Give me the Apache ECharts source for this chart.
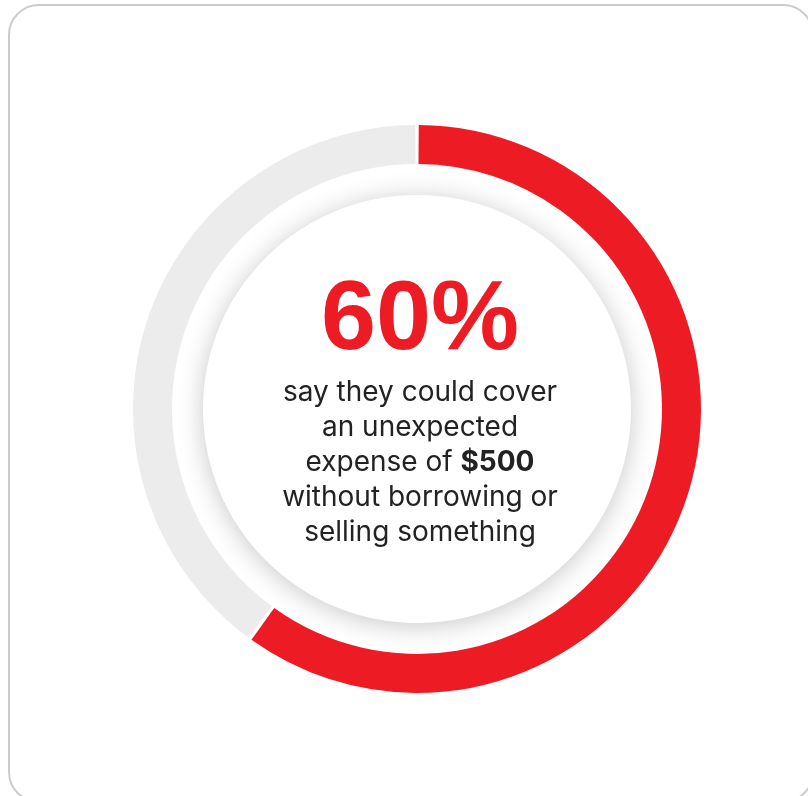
<!DOCTYPE html>
<html>
<head>
<meta charset="utf-8">
<script src="https://cdn.jsdelivr.net/npm/echarts@6/dist/echarts.min.js"></script>
<style>
  html, body { margin: 0; padding: 0; background: #ffffff; }
  #chart { width: 808px; height: 796px; }
</style>
</head>
<body>
<div id="chart"></div>
<script>
// Share of respondents able to cover a $500 emergency expense
const categories = ['Could cover', 'Could not cover'];
const values = [60, 40];
const colors = ['#ed1c24', '#ececec'];

const headline = values[0] + '%';
const bodyLines = [
  'say they could cover',
  'an unexpected',
  '{n|expense of }{b|$500}',
  'without borrowing or',
  'selling something'
];

const cx = 417, cy = 409;
const bodyFont = '"Inter", "Noto Sans", sans-serif';
const bodySize = 28;

const chart = echarts.init(document.getElementById('chart'), null, { renderer: 'canvas' });

chart.setOption({
  animation: false,
  backgroundColor: '#ffffff',
  graphic: [
    {
      type: 'rect',
      z: 0,
      shape: { x: 9, y: 5, width: 804, height: 797, r: 30 },
      style: { fill: '#ffffff', stroke: '#cccccc', lineWidth: 2 }
    },
    {
      type: 'circle',
      z: 1,
      shape: { cx: cx, cy: cy, r: 214 },
      style: {
        fill: '#ffffff',
        shadowBlur: 26,
        shadowColor: 'rgba(0,0,0,0.22)',
        shadowOffsetX: 0,
        shadowOffsetY: 3
      }
    },
    {
      type: 'text',
      z: 5,
      x: cx + 3,
      y: 322,
      style: {
        text: headline,
        fill: '#ed1c24',
        font: 'bold 99px "Liberation Sans", Arial, sans-serif',
        align: 'center',
        verticalAlign: 'middle'
      }
    },
    {
      type: 'text',
      z: 5,
      x: cx + 3,
      y: 463,
      style: {
        text: bodyLines.join('\n'),
        fill: '#222222',
        font: bodySize + 'px ' + bodyFont,
        align: 'center',
        verticalAlign: 'middle',
        lineHeight: 35,
        rich: {
          n: { font: bodySize + 'px ' + bodyFont, fill: '#222222', lineHeight: 35 },
          b: { font: 'bold ' + bodySize + 'px ' + bodyFont, fill: '#222222', lineHeight: 35 }
        }
      }
    }
  ],
  series: [
    {
      type: 'pie',
      z: 3,
      center: [cx, cy],
      radius: [245, 284],
      startAngle: 90,
      clockwise: true,
      padAngle: 0.7,
      silent: true,
      label: { show: false },
      labelLine: { show: false },
      data: categories.map((name, i) => ({
        name: name,
        value: values[i],
        itemStyle: { color: colors[i] }
      }))
    }
  ]
});
</script>
</body>
</html>
